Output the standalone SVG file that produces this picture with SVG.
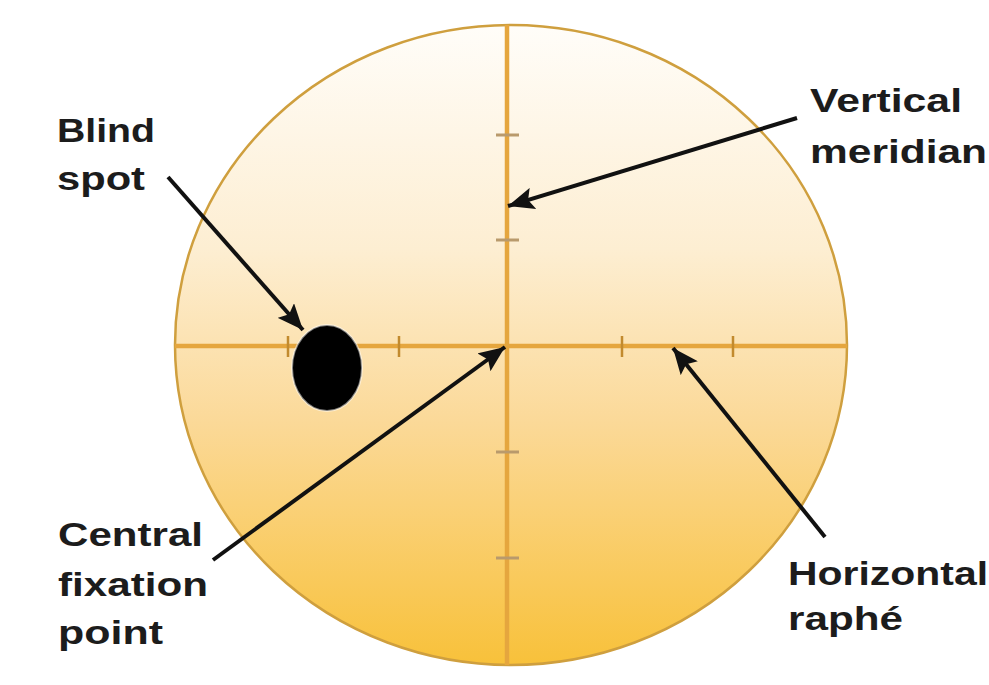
<svg xmlns="http://www.w3.org/2000/svg" width="989" height="685" viewBox="0 0 989 685">
  <style>
    .lbl { font-family: "Liberation Sans", Arial, sans-serif; font-weight: bold; font-size: 33px; fill: #1c1c1c; }
    .axis { stroke: #e5a63e; stroke-width: 4.5; fill: none; }
    .vtick { stroke: #b99a6c; stroke-width: 3; }
    .htick { stroke: #c28a2e; stroke-width: 2.5; }
    .arrow { stroke: #111; stroke-width: 4; fill: none; marker-end: url(#ah); }
  </style>
  <defs>
    <linearGradient id="fill" x1="0" y1="25" x2="0" y2="665" gradientUnits="userSpaceOnUse">
      <stop offset="0" stop-color="#fffdf9"/>
      <stop offset="0.35" stop-color="#fdeed2"/>
      <stop offset="0.62" stop-color="#fbd998"/>
      <stop offset="1" stop-color="#f8c13a"/>
    </linearGradient>
    <marker id="ah" markerUnits="userSpaceOnUse" markerWidth="28" markerHeight="22" refX="26" refY="11" orient="auto">
      <path d="M0,0 L26,11 L0,22 L5,11 z" fill="#111"/>
    </marker>
  </defs>
  <rect width="989" height="685" fill="#ffffff"/>

  <g id="field">
    <ellipse cx="511" cy="345" rx="336" ry="320" fill="url(#fill)" stroke="#cf9f3e" stroke-width="2.5"/>
    <line class="axis" x1="507" y1="25" x2="507" y2="665"/>
    <line class="axis" x1="175" y1="346" x2="847" y2="346"/>
    <g id="ticks">
      <line class="vtick" x1="496" y1="135" x2="519" y2="135"/>
      <line class="vtick" x1="496" y1="240" x2="519" y2="240"/>
      <line class="vtick" x1="496" y1="452" x2="519" y2="452"/>
      <line class="vtick" x1="496" y1="558" x2="519" y2="558"/>
      <line class="htick" x1="288" y1="336" x2="288" y2="357"/>
      <line class="htick" x1="399" y1="336" x2="399" y2="357"/>
      <line class="htick" x1="622" y1="336" x2="622" y2="357"/>
      <line class="htick" x1="733" y1="336" x2="733" y2="357"/>
    </g>
  </g>

  <g id="blind-spot">
    <ellipse cx="327" cy="368" rx="35" ry="43" fill="#000" stroke="#ffffff" stroke-opacity="0.5" stroke-width="2"/>
  </g>

  <g id="connectors">
    <line class="arrow" x1="168" y1="177" x2="303" y2="330"/>
    <line class="arrow" x1="797" y1="118" x2="508" y2="206"/>
    <line class="arrow" x1="213" y1="560" x2="505" y2="347"/>
    <line class="arrow" x1="825" y1="537" x2="673" y2="348"/>
  </g>

  <g id="label-blind-spot">
    <text class="lbl" x="57" y="142" textLength="98" lengthAdjust="spacingAndGlyphs">Blind</text>
    <text class="lbl" x="57" y="190" textLength="88" lengthAdjust="spacingAndGlyphs">spot</text>
  </g>
  <g id="label-vertical-meridian">
    <text class="lbl" x="810" y="112" textLength="152" lengthAdjust="spacingAndGlyphs">Vertical</text>
    <text class="lbl" x="810" y="163" textLength="177" lengthAdjust="spacingAndGlyphs">meridian</text>
  </g>
  <g id="label-central-fixation-point">
    <text class="lbl" x="58" y="546" textLength="145" lengthAdjust="spacingAndGlyphs">Central</text>
    <text class="lbl" x="58" y="596" textLength="150" lengthAdjust="spacingAndGlyphs">fixation</text>
    <text class="lbl" x="58" y="644" textLength="105" lengthAdjust="spacingAndGlyphs">point</text>
  </g>
  <g id="label-horizontal-raphe">
    <text class="lbl" x="788" y="585" textLength="200" lengthAdjust="spacingAndGlyphs">Horizontal</text>
    <text class="lbl" x="788" y="630" textLength="115" lengthAdjust="spacingAndGlyphs">raphé</text>
  </g>
</svg>
